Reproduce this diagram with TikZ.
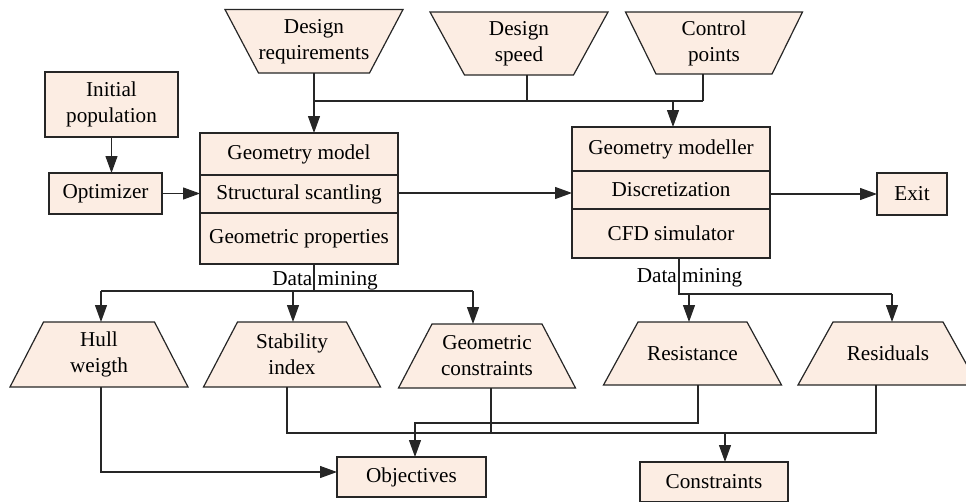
\documentclass[tikz,border=0pt]{standalone}
\usepackage{fontspec}
\setmainfont{Liberation Serif}
\usetikzlibrary{arrows.meta}
\definecolor{boxfill}{RGB}{252,237,227}
\definecolor{linec}{RGB}{38,38,38}

% trapezoid with a named text node on top:
% name, centre x, top y, bottom y, half top width, half bottom width, text
\newcommand\trapnode[7]{%
  \pgfmathsetmacro\trh{#4-#3}%
  \filldraw[boxline] ({#2-#5},#3) -- ({#2+#5},#3) -- ({#2+#6},#4) -- ({#2-#6},#4) -- cycle;
  \node[txt, minimum height=\trh pt] (#1) at (#2,{(#3+#4)/2}) {#7};
}

\begin{document}
\begin{tikzpicture}[x=1pt,y=-1pt,
  font=\fontsize{21.2}{26}\selectfont,
  boxline/.style={draw=linec, fill=boxfill, line width=1.2pt},
  txt/.style={inner sep=0pt, outer sep=0pt, align=center},
  box/.style={boxline, inner sep=0pt, outer sep=0pt, align=center},
  conn/.style={draw=linec, line width=1.2pt},
  arr/.style={conn, -{Triangle[length=17pt,width=12pt]}}]

\useasboundingbox (0,0) rectangle (966,501);
\clip (0,0) rectangle (966,501);

% input trapezoids
\trapnode{dreq}{314}{9.5}{73}{89}{55.5}{Design\\requirements}
\trapnode{dspeed}{519}{12}{75}{89}{54.5}{Design\\speed}
\trapnode{ctrl}{714}{12}{74}{88.5}{58}{Control\\points}

% plain boxes
\node[box, minimum width=133pt, minimum height=65pt] (init) at (111.5,104.5) {Initial\\population};
\node[box, minimum width=113pt, minimum height=41pt] (opt) at (105.5,193.5) {Optimizer};
\node[box, minimum width=70pt, minimum height=42pt] (exit) at (912,194) {Exit};

% structural block
\node[box, minimum width=198pt, minimum height=42pt] (gm) at (299,154) {Geometry model};
\node[box, minimum width=198pt, minimum height=38pt] (ss) at (299,194) {Structural scantling};
\node[box, minimum width=198pt, minimum height=51pt] (gp) at (299,238.5) {Geometric properties};

% hydrodynamic block
\node[box, minimum width=198pt, minimum height=44pt] (gmod) at (671,149) {Geometry modeller};
\node[box, minimum width=198pt, minimum height=38pt] (disc) at (671,190) {Discretization};
\node[box, minimum width=198pt, minimum height=49pt] (cfd) at (671,233.5) {CFD simulator};

% output trapezoids
\trapnode{hull}{99}{322}{387}{55.5}{89}{Hull\\weigth}
\trapnode{stab}{292}{322}{387}{54.5}{88.5}{Stability\\index}
\trapnode{geoc}{487}{324}{388}{55}{88.5}{Geometric\\constraints}
\trapnode{res}{692.5}{322}{385}{54.5}{89}{Resistance}
\trapnode{resid}{888}{322}{385}{55}{90}{Residuals}

% result boxes
\node[box, minimum width=149pt, minimum height=40pt] (obj) at (411.5,477) {Objectives};
\node[box, minimum width=148pt, minimum height=40pt] (cons) at (714,482) {Constraints};

% data mining labels
\node[txt, anchor=base] (dmlabL) at (325,285) {Data mining};
\node[txt, anchor=base] (dmlabR) at (689.5,282) {Data mining};

% bus lines
\coordinate (bus) at (0,101);
\coordinate (dmL) at (314,291);
\coordinate (dmR) at (679,294);
\coordinate (busC) at (0,433);
\coordinate (busO) at (0,423);

% inputs
\draw[arr] (dreq.south) -- (dreq.south |- gm.north);
\draw[conn] ([xshift=8pt]dspeed.south) -- ([xshift=8pt]dspeed.south |- bus);
\draw[conn] ([xshift=-11pt]ctrl.south) -- ([xshift=-11pt]ctrl.south |- bus);
\draw[conn] (dreq.south |- bus) -- ([xshift=-11pt]ctrl.south |- bus);
\draw[arr] ([xshift=2pt]gmod.north |- bus) -- ([xshift=2pt]gmod.north);

% main flow
\draw[arr] (init.south) -- (init.south |- opt.north);
\draw[arr] (opt.east) -- (opt.east -| ss.west);
\draw[arr] ([yshift=1pt]ss.east) -- ([yshift=1pt]ss.east -| disc.west);
\draw[arr] (disc.east |- exit.west) -- (exit.west);

% data mining, structural side
\draw[conn] (dmL |- gp.south) -- (dmL);
\draw[conn] ([xshift=2pt]hull.north |- dmL) -- ([xshift=-14pt]geoc.north |- dmL);
\draw[arr] ([xshift=2pt]hull.north |- dmL) -- ([xshift=2pt]hull.north);
\draw[arr] ([xshift=1pt]stab.north |- dmL) -- ([xshift=1pt]stab.north);
\draw[arr] ([xshift=-14pt]geoc.north |- dmL) -- ([xshift=-14pt]geoc.north);

% data mining, hydrodynamic side
\draw[conn] (dmR |- cfd.south) -- (dmR) -- ([xshift=4pt]resid.north |- dmR);
\draw[arr] ([xshift=-3.5pt]res.north |- dmR) -- ([xshift=-3.5pt]res.north);
\draw[arr] ([xshift=4pt]resid.north |- dmR) -- ([xshift=4pt]resid.north);

% objectives and constraints
\draw[arr] ([xshift=2pt]hull.south) |- ([yshift=5pt]obj.west);
\draw[arr] ([xshift=5.5pt]res.south) |- ([xshift=3.5pt]obj.north |- busO) -- ([xshift=3.5pt]obj.north);
\draw[conn] ([xshift=-5pt]stab.south) |- ([xshift=-12pt]resid.south |- busC) -- ([xshift=-12pt]resid.south);
\draw[conn] ([xshift=4pt]geoc.south) -- ([xshift=4pt]geoc.south |- busC);
\draw[arr] ([xshift=11pt]cons.north |- busC) -- ([xshift=11pt]cons.north);

\end{tikzpicture}
\end{document}
